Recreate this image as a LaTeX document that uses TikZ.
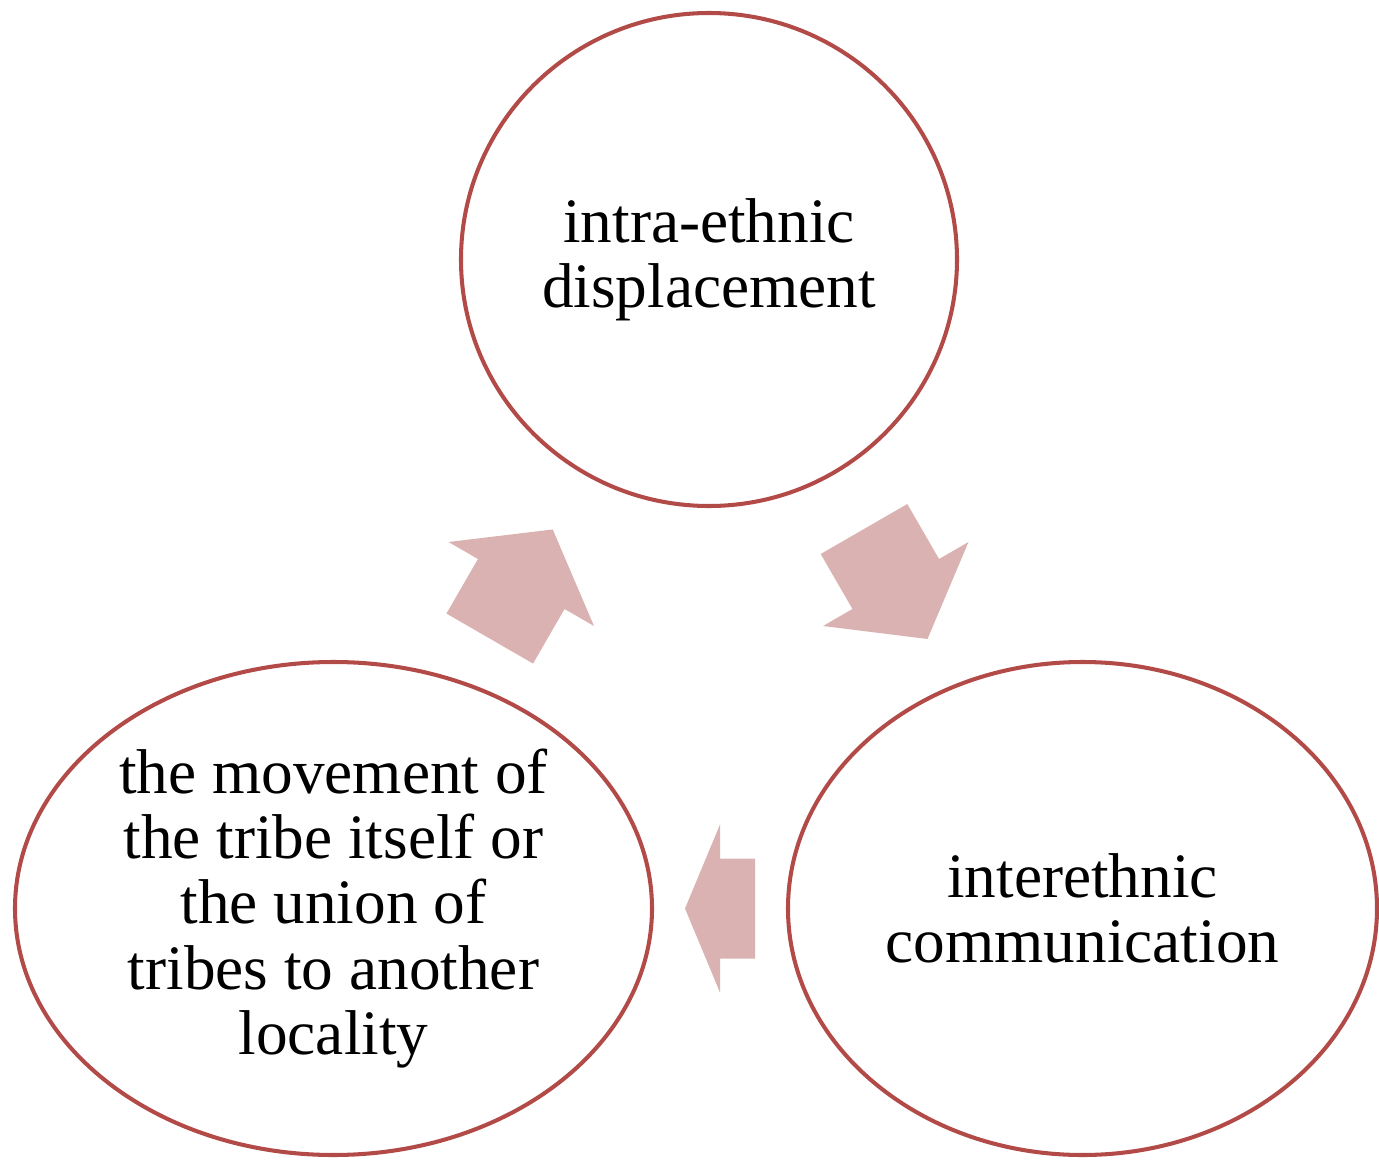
\documentclass[tikz,border=0pt]{standalone}
\usepackage{fontspec}
\setmainfont{Liberation Serif}
\usepackage{tikz}
\usetikzlibrary{shapes,calc}
\definecolor{stageEdge}{HTML}{B24B48}
\definecolor{stageArrow}{HTML}{DBB2B2}
\tikzset{
	% Stage styles ---------------------------------------------
	stage/.style={ellipse,draw=stageEdge,line width=1.15pt,inner sep=0pt,align=center,font=\fontsize{18}{18.6}\selectfont,minimum height=4.93cm},
	stage arrow/.style={fill=stageArrow},
}
\newcommand{\blockarrow}[3]{%
	\fill [stage arrow, shift={(#1)}, rotate=#2] (-#3/2,-.5) -- (0,-.5) -- (0,-.84) -- (#3/2,0) -- (0,.84) -- (0,.5) -- (-#3/2,.5) -- cycle;
}

\begin{document}
\begin{tikzpicture}
					\useasboundingbox (0,0) rectangle (13.79,11.59);
					\node [stage,minimum width=4.96cm] (top) at (7.09,8.995) {intra-ethnic\\displacement};
					\node [stage,minimum width=6.37cm] (left) at (3.335,2.505) {the movement of\\the tribe itself or\\the union of\\tribes to another\\locality};
					\node [stage,minimum width=5.89cm] (right) at (10.825,2.505) {interethnic\\communication};
					\blockarrow{$(left)!.5!(top)$}{60}{1.26}
					\blockarrow{$(top)!.5!(right)$}{-60}{1.27}
					\blockarrow{$(right.west)!.5!(left.east)$}{180}{.7}
				\end{tikzpicture}
\end{document}
